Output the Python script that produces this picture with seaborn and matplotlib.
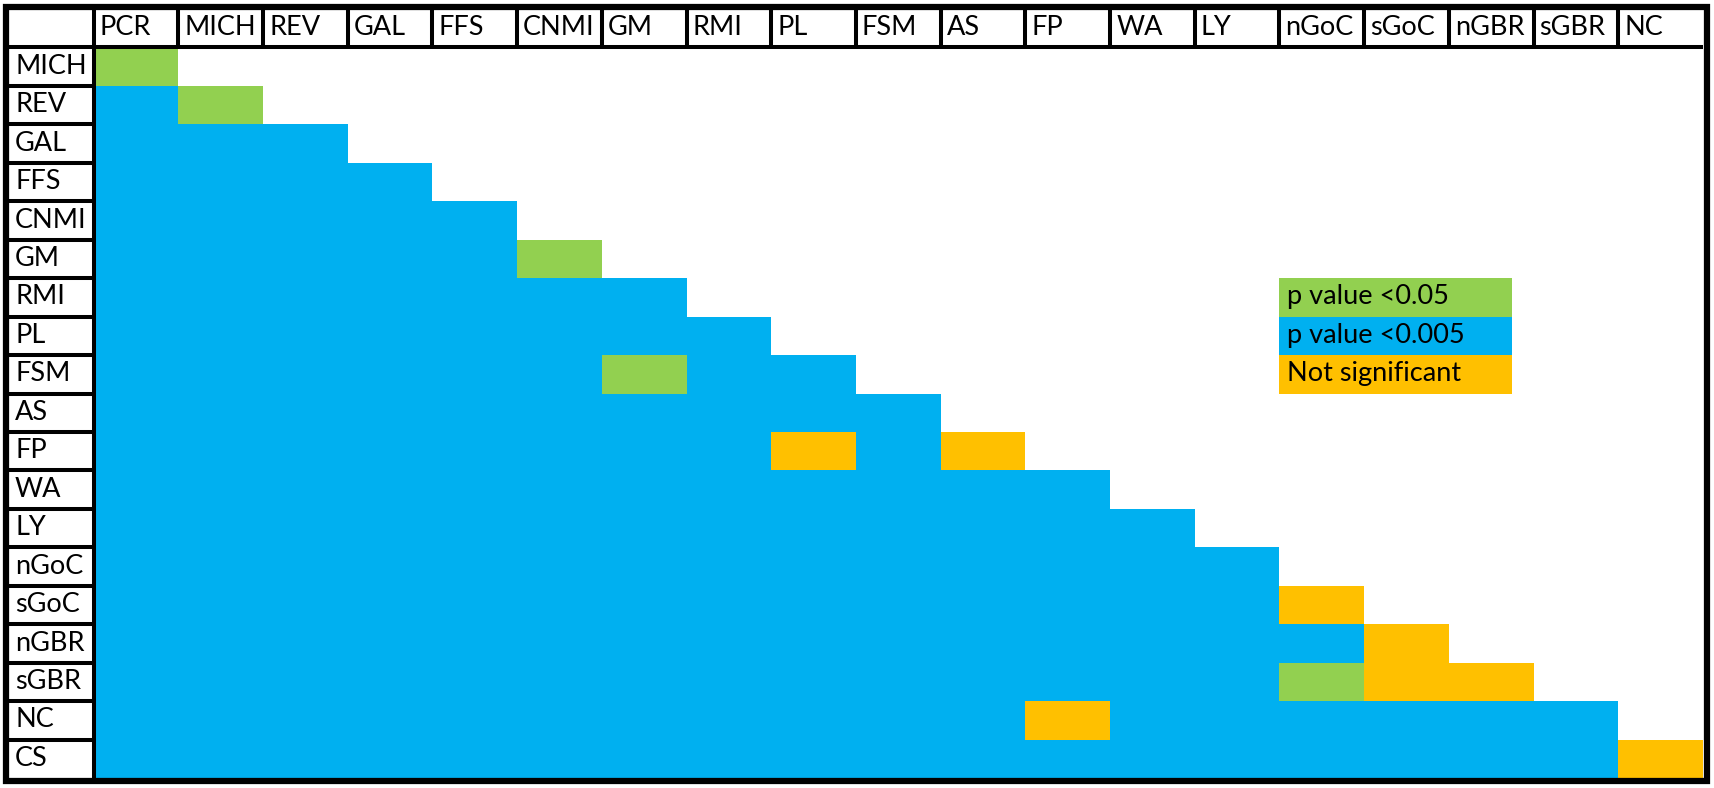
import numpy as np
import pandas as pd
import matplotlib
matplotlib.use("Agg")
import matplotlib.pyplot as plt
import seaborn as sns
from matplotlib.colors import ListedColormap
from matplotlib.patches import Rectangle

# ---- data ----
col_labels = ["PCR", "MICH", "REV", "GAL", "FFS", "CNMI", "GM", "RMI", "PL", "FSM",
              "AS", "FP", "WA", "LY", "nGoC", "sGoC", "nGBR", "sGBR", "NC"]
row_labels = ["MICH", "REV", "GAL", "FFS", "CNMI", "GM", "RMI", "PL", "FSM", "AS",
              "FP", "WA", "LY", "nGoC", "sGoC", "nGBR", "sGBR", "NC", "CS"]
# G = p value <0.05, B = p value <0.005, O = not significant
row_codes = [
    "G",
    "BG",
    "BBB",
    "BBBB",
    "BBBBB",
    "BBBBBG",
    "BBBBBBB",
    "BBBBBBBB",
    "BBBBBBGBB",
    "BBBBBBBBBB",
    "BBBBBBBBOBO",
    "BBBBBBBBBBBB",
    "BBBBBBBBBBBBB",
    "BBBBBBBBBBBBBB",
    "BBBBBBBBBBBBBBO",
    "BBBBBBBBBBBBBBBO",
    "BBBBBBBBBBBBBBGOO",
    "BBBBBBBBBBBOBBBBBB",
    "BBBBBBBBBBBBBBBBBBO",
]
legend_labels = ["p value <0.05", "p value <0.005", "Not significant"]
legend_codes = ["G", "B", "O"]
code_values = {"G": 0, "B": 1, "O": 2}
colors = ["#92D050", "#00B0F0", "#FFC000"]

# ---- build padded matrix (header row / label column empty) ----
n = len(row_labels) + 1
mat = np.full((n, n), np.nan)
for i, codes in enumerate(row_codes):
    for j, c in enumerate(codes):
        mat[i + 1, j + 1] = code_values[c]
df = pd.DataFrame(mat)

W, H = 1715, 788
fig = plt.figure(figsize=(W / 100, H / 100), dpi=100)
fig.patch.set_facecolor("white")
gx0, gx1, gy0, gy1 = 9, 1703, 9, 778
ax = fig.add_axes([gx0 / W, (H - gy1) / H, (gx1 - gx0) / W, (gy1 - gy0) / H])

sns.heatmap(df, ax=ax, cmap=ListedColormap(colors), vmin=-0.5, vmax=2.5,
            cbar=False, xticklabels=False, yticklabels=False, linewidths=0)
ax.set_xlim(0, n)
ax.set_ylim(n, 0)
ax.set_xticks([])
ax.set_yticks([])
for s in ax.spines.values():
    s.set_visible(False)

font = dict(family=["Lato", "DejaVu Sans"], size=19.5, color="black")
cw = (gx1 - gx0) / n  # px per column
pad = 6.0 / cw
ty = 0.49

for j, lab in enumerate(col_labels):
    ax.text(j + 1 + pad, ty, lab, ha="left", va="center", **font)
for i, lab in enumerate(row_labels):
    ax.text(pad, i + 1 + ty, lab, ha="left", va="center", **font)

lw = 2.9
# header row separators
for c in range(2, n):
    ax.plot([c, c], [0, 1], color="black", lw=lw, solid_capstyle="butt")
ax.plot([0, n], [1, 1], color="black", lw=lw, solid_capstyle="butt")
# label column separators
ax.plot([1, 1], [0, n], color="black", lw=lw, solid_capstyle="butt")
for r in range(2, n):
    ax.plot([0, 1], [r, r], color="black", lw=lw, solid_capstyle="butt")

# legend block
lx, lw_box = 15, 2.75
for k, (lab, code) in enumerate(zip(legend_labels, legend_codes)):
    y = 7 + k
    ax.add_patch(Rectangle((lx, y), lw_box, 1, facecolor=colors[code_values[code]],
                           edgecolor="none"))
    ax.text(lx + 8 / cw, y + ty, lab, ha="left", va="center", **font)

# outer frame
bx0, by0, bx1, by1 = 6.5, 7, 1707, 781
fig.add_artist(Rectangle((bx0 / W, (H - by1) / H), (bx1 - bx0) / W, (by1 - by0) / H,
                         transform=fig.transFigure, fill=False, edgecolor="black",
                         linewidth=4.5, joinstyle="miter"))

fig.savefig("out.png", dpi=100, facecolor="white")
